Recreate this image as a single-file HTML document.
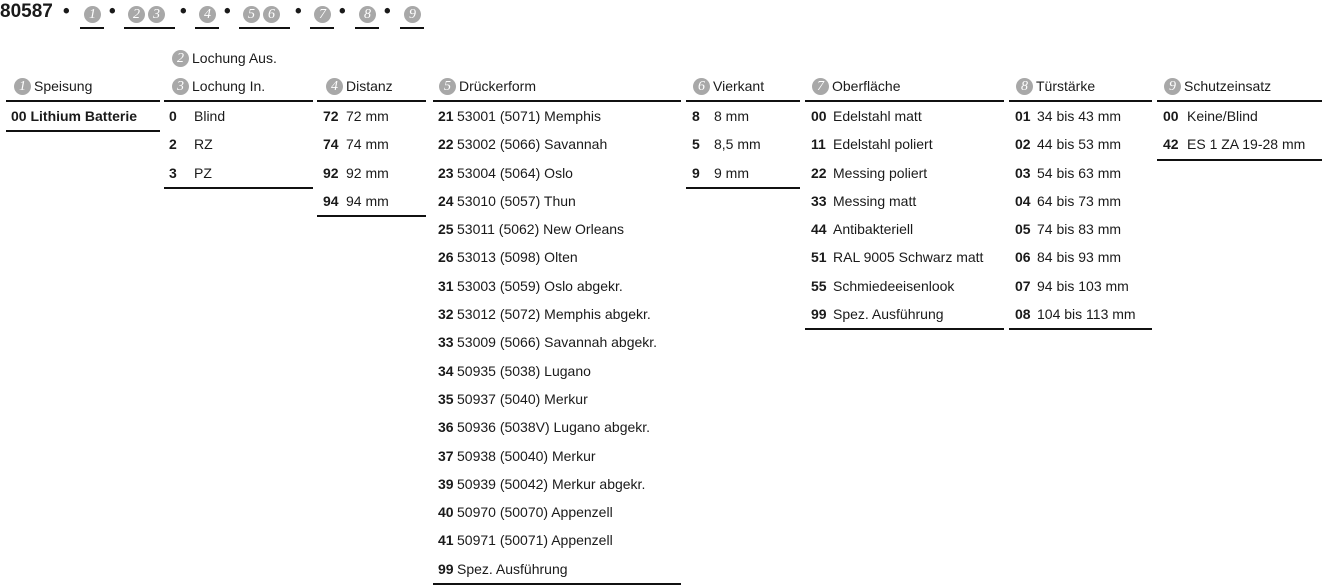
<!DOCTYPE html>
<html><head><meta charset="utf-8"><style>
body{margin:0;width:1327px;height:585px;background:#fff;position:relative;overflow:hidden;font-family:"Liberation Sans",sans-serif;color:#1a1a1a;}
.c{position:absolute;display:flex;align-items:center;height:18px}
.hd{position:absolute;top:77px;font-size:14px;white-space:nowrap;height:18px;display:flex;align-items:center}
.col{position:absolute;top:100px;border-top:2px solid #111;border-bottom:2px solid #111;}
.r{height:28.3px;line-height:28.3px;font-size:14px;white-space:nowrap;position:relative}
.r b{position:absolute;left:0;font-weight:bold}
.r span{position:absolute}
.n{display:inline-block;width:17px;height:17px;border-radius:50%;background:#a8a8a8;color:#fff;font-family:"Liberation Serif",serif;font-style:italic;font-size:14px;line-height:17px;text-align:center;margin-right:3px;flex:none}
.t{position:absolute;top:1px;font-size:19px;font-weight:bold;white-space:nowrap}
.d{position:absolute;top:1px;font-weight:bold;font-size:19px}
.u{position:absolute;top:27px;height:2px;background:#111}
</style></head><body>
<div class="t" style="left:0">80587</div>
<div class="d" style="left:63px">•</div>
<div class="c" style="left:84px;top:5px"><span class="n">1</span></div>
<div class="d" style="left:109px">•</div>
<div class="c" style="left:128px;top:5px"><span class="n">2</span><span class="n">3</span></div>
<div class="d" style="left:180px">•</div>
<div class="c" style="left:199px;top:5px"><span class="n">4</span></div>
<div class="d" style="left:224px">•</div>
<div class="c" style="left:243px;top:5px"><span class="n">5</span><span class="n">6</span></div>
<div class="d" style="left:295px">•</div>
<div class="c" style="left:314px;top:5px"><span class="n">7</span></div>
<div class="d" style="left:339px">•</div>
<div class="c" style="left:359px;top:5px"><span class="n">8</span></div>
<div class="d" style="left:384px">•</div>
<div class="c" style="left:404px;top:5px"><span class="n">9</span></div>
<div class="u" style="left:80px;width:24px"></div>
<div class="u" style="left:124px;width:51px"></div>
<div class="u" style="left:195px;width:24px"></div>
<div class="u" style="left:239px;width:51px"></div>
<div class="u" style="left:310px;width:24px"></div>
<div class="u" style="left:355px;width:24px"></div>
<div class="u" style="left:400px;width:24px"></div>

<div class="hd" style="left:14px"><span class="n">1</span>Speisung</div>
<div class="hd" style="left:172px;top:49px"><span class="n">2</span>Lochung Aus.</div>
<div class="hd" style="left:172px"><span class="n">3</span>Lochung In.</div>
<div class="hd" style="left:326px"><span class="n">4</span>Distanz</div>
<div class="hd" style="left:439px"><span class="n">5</span>Drückerform</div>
<div class="hd" style="left:693px"><span class="n">6</span>Vierkant</div>
<div class="hd" style="left:812px"><span class="n">7</span>Oberfläche</div>
<div class="hd" style="left:1016px"><span class="n">8</span>Türstärke</div>
<div class="hd" style="left:1164px"><span class="n">9</span>Schutzeinsatz</div>

<div class="col" style="left:6px;width:154px"><div class="r" style="padding-left:5px;font-weight:bold">00 Lithium Batterie</div></div>

<div class="col" style="left:164px;width:149px">
<div class="r"><b style="left:5px">0</b><span style="left:30px">Blind</span></div>
<div class="r"><b style="left:5px">2</b><span style="left:30px">RZ</span></div>
<div class="r"><b style="left:5px">3</b><span style="left:30px">PZ</span></div>
</div>

<div class="col" style="left:317px;width:109px">
<div class="r"><b style="left:6px">72</b><span style="left:29px">72 mm</span></div>
<div class="r"><b style="left:6px">74</b><span style="left:29px">74 mm</span></div>
<div class="r"><b style="left:6px">92</b><span style="left:29px">92 mm</span></div>
<div class="r"><b style="left:6px">94</b><span style="left:29px">94 mm</span></div>
</div>

<div class="col" style="left:433px;width:248px">
<div class="r"><b style="left:5px">21</b><span style="left:24px">53001 (5071) Memphis</span></div>
<div class="r"><b style="left:5px">22</b><span style="left:24px">53002 (5066) Savannah</span></div>
<div class="r"><b style="left:5px">23</b><span style="left:24px">53004 (5064) Oslo</span></div>
<div class="r"><b style="left:5px">24</b><span style="left:24px">53010 (5057) Thun</span></div>
<div class="r"><b style="left:5px">25</b><span style="left:24px">53011 (5062) New Orleans</span></div>
<div class="r"><b style="left:5px">26</b><span style="left:24px">53013 (5098) Olten</span></div>
<div class="r"><b style="left:5px">31</b><span style="left:24px">53003 (5059) Oslo abgekr.</span></div>
<div class="r"><b style="left:5px">32</b><span style="left:24px">53012 (5072) Memphis abgekr.</span></div>
<div class="r"><b style="left:5px">33</b><span style="left:24px">53009 (5066) Savannah abgekr.</span></div>
<div class="r"><b style="left:5px">34</b><span style="left:24px">50935 (5038) Lugano</span></div>
<div class="r"><b style="left:5px">35</b><span style="left:24px">50937 (5040) Merkur</span></div>
<div class="r"><b style="left:5px">36</b><span style="left:24px">50936 (5038V) Lugano abgekr.</span></div>
<div class="r"><b style="left:5px">37</b><span style="left:24px">50938 (50040) Merkur</span></div>
<div class="r"><b style="left:5px">39</b><span style="left:24px">50939 (50042) Merkur abgekr.</span></div>
<div class="r"><b style="left:5px">40</b><span style="left:24px">50970 (50070) Appenzell</span></div>
<div class="r"><b style="left:5px">41</b><span style="left:24px">50971 (50071) Appenzell</span></div>
<div class="r"><b style="left:5px">99</b><span style="left:24px">Spez. Ausführung</span></div>
</div>

<div class="col" style="left:686px;width:114px">
<div class="r"><b style="left:6px">8</b><span style="left:28px">8 mm</span></div>
<div class="r"><b style="left:6px">5</b><span style="left:28px">8,5 mm</span></div>
<div class="r"><b style="left:6px">9</b><span style="left:28px">9 mm</span></div>
</div>

<div class="col" style="left:805px;width:199px">
<div class="r"><b style="left:6px">00</b><span style="left:28px">Edelstahl matt</span></div>
<div class="r"><b style="left:6px">11</b><span style="left:28px">Edelstahl poliert</span></div>
<div class="r"><b style="left:6px">22</b><span style="left:28px">Messing poliert</span></div>
<div class="r"><b style="left:6px">33</b><span style="left:28px">Messing matt</span></div>
<div class="r"><b style="left:6px">44</b><span style="left:28px">Antibakteriell</span></div>
<div class="r"><b style="left:6px">51</b><span style="left:28px">RAL 9005 Schwarz matt</span></div>
<div class="r"><b style="left:6px">55</b><span style="left:28px">Schmiedeeisenlook</span></div>
<div class="r"><b style="left:6px">99</b><span style="left:28px">Spez. Ausführung</span></div>
</div>

<div class="col" style="left:1009px;width:143px">
<div class="r"><b style="left:6px">01</b><span style="left:28px">34 bis 43 mm</span></div>
<div class="r"><b style="left:6px">02</b><span style="left:28px">44 bis 53 mm</span></div>
<div class="r"><b style="left:6px">03</b><span style="left:28px">54 bis 63 mm</span></div>
<div class="r"><b style="left:6px">04</b><span style="left:28px">64 bis 73 mm</span></div>
<div class="r"><b style="left:6px">05</b><span style="left:28px">74 bis 83 mm</span></div>
<div class="r"><b style="left:6px">06</b><span style="left:28px">84 bis 93 mm</span></div>
<div class="r"><b style="left:6px">07</b><span style="left:28px">94 bis 103 mm</span></div>
<div class="r"><b style="left:6px">08</b><span style="left:28px">104 bis 113 mm</span></div>
</div>

<div class="col" style="left:1157px;width:165px">
<div class="r"><b style="left:6px">00</b><span style="left:30px">Keine/Blind</span></div>
<div class="r"><b style="left:6px">42</b><span style="left:30px">ES 1 ZA 19-28 mm</span></div>
</div>
</body></html>
